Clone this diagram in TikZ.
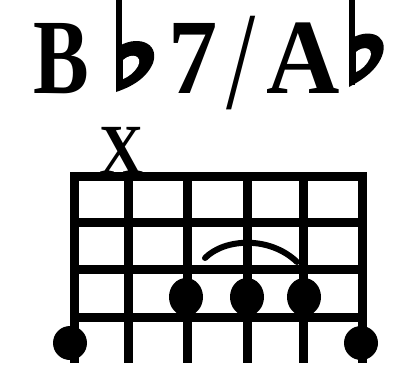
\documentclass[tikz,border=0pt]{standalone}
\usepackage{fontspec}
\setmainfont{Liberation Serif}
\begin{document}
\begin{tikzpicture}[x=1pt,y=-1pt,
  gridline/.style={line width=9pt},
  fingerdot/.style={fill=black},
  flatstem/.style={line width=6pt},
  glyph/.style={anchor=base west,inner sep=0pt,font=\bfseries\fontsize{107}{107}\selectfont}]
\useasboundingbox (0,0) rectangle (405,370);
% title
\node[glyph,xscale=0.78] (B) at (33,93) {B};
\node[glyph,xscale=0.92] (seven) at (168,93) {7};
\node[glyph,font=\fontsize{140}{140}\selectfont,xscale=0.75] (slash) at (226,108) {/};
\node[glyph,xscale=0.95] (A) at (266,93) {A};
% flats
\draw[flatstem] (119,0) -- (119,90);
\fill (116,48) .. controls (136,34) and (160,42) .. (153,63) .. controls (146,80) and (128,88) .. (116,92) -- cycle;
\fill[white] (123,60) .. controls (132,52) and (143,56) .. (138,66) .. controls (134,73) and (128,77) .. (123,79) -- cycle;
\draw[flatstem] (352,0) -- (352,85);
\fill (349,40) .. controls (366,28) and (388,33) .. (383,53) .. controls (378,70) and (362,80) .. (349,87) -- cycle;
\fill[white] (356,52) .. controls (364,45) and (374,48) .. (370,58) .. controls (367,65) and (361,70) .. (356,72) -- cycle;
% X
\node[inner sep=0pt,anchor=base,font=\bfseries\fontsize{72}{72}\selectfont,xscale=0.85] (x) at (122,174) {X};
% grid
\foreach \y [count=\i] in {176,222,269,317}
  \draw[gridline] (74,\y) -- (362,\y);
\foreach \x in {74,128,187,247,303,362}
  \draw[gridline] (\x,172) -- (\x,363);
% dots
\fill[fingerdot] (70,343) circle (17);
\fill[fingerdot] (361,343) circle (17);
\fill[fingerdot] (186,297) ellipse (17 and 19);
\fill[fingerdot] (247,297) ellipse (17 and 19);
\fill[fingerdot] (304,297) ellipse (17 and 19);
% arc
\draw[line width=6pt,line cap=round] (205,258) .. controls (225,238) and (270,236) .. (297,262);
\end{tikzpicture}
\end{document}
